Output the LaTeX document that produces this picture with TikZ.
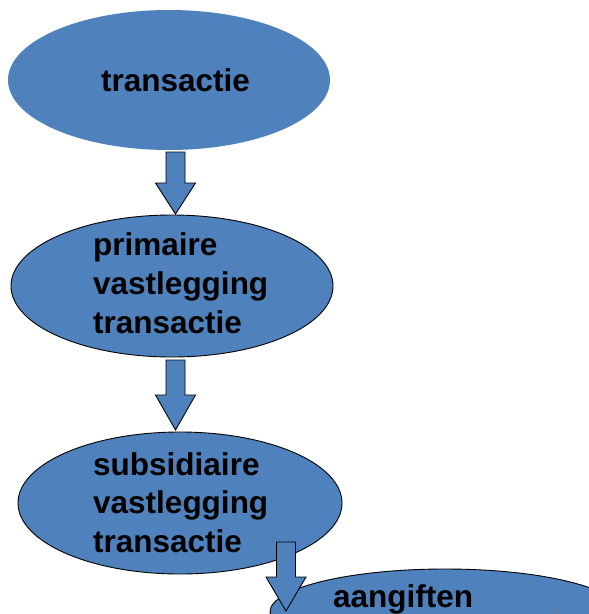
\documentclass[tikz,border=0pt]{standalone}
\usepackage{fontspec}
\setmainfont{Liberation Sans}
\usetikzlibrary{shapes.geometric}
\definecolor{boxblue}{HTML}{4F81BD}
\newcommand\blkarrow[4]{% centre x, top of shaft, start of head, tip
  \filldraw[flowarrow] (#1-9.5,#2) -- (#1+9.5,#2) -- (#1+9.5,#3) -- (#1+20,#3)
    -- (#1,#4) -- (#1-20,#3) -- (#1-9.5,#3) -- cycle;}
\begin{document}
\begin{tikzpicture}[x=1pt,y=-1pt,
  bubble/.style={ellipse,fill=boxblue,inner sep=0pt},
  outlined/.style={draw=black,line width=0.9pt},
  flowarrow/.style={fill=boxblue,draw=black,line width=0.9pt,line join=miter},
  label/.style={anchor=base west,inner sep=0pt,font=\fontsize{31.5}{38}\selectfont\bfseries},
  pagenum/.style={anchor=north,inner sep=0pt,text=gray,font=\fontsize{9}{10}\selectfont}]
  \useasboundingbox (0,0) rectangle (589,614);

  % stages of the flow
  \node[bubble,minimum width=322pt,minimum height=140pt] (e1) at (169,80) {};
  \node[bubble,outlined,minimum width=322pt,minimum height=142pt] (e2) at (172,286) {};
  \node[bubble,outlined,minimum width=324pt,minimum height=142pt] (e3) at (180,503) {};
  \node[bubble,outlined,minimum width=350pt,minimum height=86pt] (e4) at (445,612) {};

  % block arrows between the stages
  \blkarrow{175.5}{152}{183}{214}
  \blkarrow{175.5}{360}{395}{430}
  \blkarrow{286}{542}{577}{611}

  % texts
  \node[label] (t1) at (101,91) {transactie};
  \node[label] (t2a) at (93,255) {primaire};
  \node[label] (t2b) at (93,294) {vastlegging};
  \node[label] (t2c) at (93,333.5) {transactie};
  \node[label] (t3a) at (93,475) {subsidiaire};
  \node[label] (t3b) at (93,513.5) {vastlegging};
  \node[label] (t3c) at (93,552) {transactie};
  \node[label] (t4) at (333,607) {aangiften};
  \node[pagenum] (pg) at (555,607) {8};
\end{tikzpicture}
\end{document}
